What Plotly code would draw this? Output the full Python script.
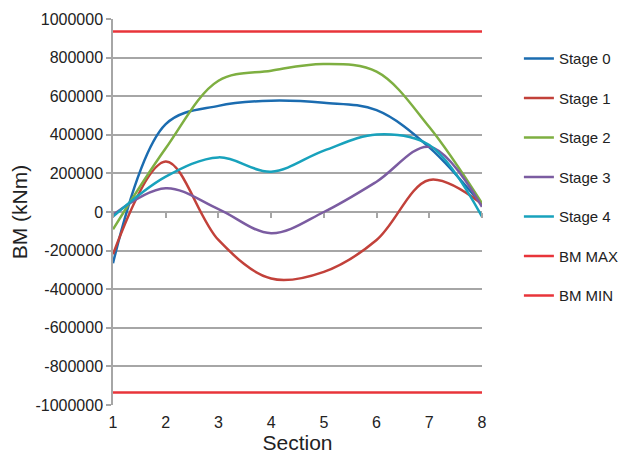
import plotly.graph_objects as go

sections = [1, 2, 3, 4, 5, 6, 7, 8]
stage0 = [-265000, 455000, 550000, 577000, 566000, 528000, 335000, 36000]
stage1 = [-219000, 262000, -145000, -345000, -310000, -145000, 166000, 41000]
stage2 = [-90000, 330000, 680000, 732000, 767000, 727000, 440000, 45000]
stage3 = [-15000, 123000, 15000, -110000, 0, 157000, 338000, 27000]
stage4 = [-24000, 183000, 283000, 209000, 318000, 402000, 347000, -24000]
bm_max = [935000] * 8
bm_min = [-935000] * 8

series_names = ["Stage 0", "Stage 1", "Stage 2", "Stage 3", "Stage 4", "BM MAX", "BM MIN"]
series_vals = [stage0, stage1, stage2, stage3, stage4, bm_max, bm_min]
colors = ["#1B6CB0", "#C2413A", "#7EAF41", "#7B5CA1", "#18A2BC", "#E8343A", "#E8343A"]

y_tickvals = [1000000, 800000, 600000, 400000, 200000, 0, -200000, -400000,
              -600000, -800000, -1000000]
y_ticktext = ["1000000", "800000", "600000", "400000", "200000", "0", "-200000",
              "-400000", "-600000", "-800000", "-1000000"]

FONT = "Liberation Sans, Arial, sans-serif"
GRID = "#A6A6A6"

fig = go.Figure()
for i, (name, vals, col) in enumerate(zip(series_names, series_vals, colors)):
    fig.add_trace(go.Scatter(
        x=sections, y=vals, name=name, mode="lines",
        line=dict(color=col, width=2.5, shape="spline", smoothing=1),
        legendgroup=f"g{i}",
    ))

# invisible trace to carry the zero-level tick axis
fig.add_trace(go.Scatter(x=sections, y=[None] * 8, xaxis="x2", yaxis="y",
                         showlegend=False, hoverinfo="skip", mode="lines"))

fig.update_layout(
    width=624, height=448,
    margin=dict(l=105, r=150, t=11, b=51, pad=0, autoexpand=False),
    paper_bgcolor="white", plot_bgcolor="white",
    font=dict(family=FONT, color="#222222", size=16),
    showlegend=True,
    legend=dict(
        x=1.100, y=0.940, xanchor="left", yanchor="top",
        font=dict(family=FONT, size=15, color="#222222"),
        tracegroupgap=17, bgcolor="rgba(0,0,0,0)", borderwidth=0,
    ),
    xaxis=dict(
        range=[1, 8], tickvals=sections, ticktext=[str(s) for s in sections],
        showgrid=False, zeroline=False, showline=False, ticks="",
        tickfont=dict(size=16), ticklabelstandoff=6, automargin=False,
        title=dict(text="Section", font=dict(size=21), standoff=2),
    ),
    xaxis2=dict(
        range=[1, 8], overlaying="x", anchor="free", position=0.5,
        tickvals=sections, showticklabels=False, ticks="outside",
        ticklen=5, tickwidth=1.5, tickcolor=GRID, showgrid=False,
        zeroline=False, showline=False, automargin=False,
    ),
    yaxis=dict(
        range=[-1000000, 1000000], tickvals=y_tickvals, ticktext=y_ticktext,
        showgrid=True, gridcolor=GRID, gridwidth=1.5, zeroline=False,
        showline=True, linecolor=GRID, linewidth=1.5,
        ticks="outside", ticklen=5, tickwidth=1.5, tickcolor=GRID,
        tickfont=dict(size=16), automargin=False,
        title=dict(text="BM (kNm)", font=dict(size=21), standoff=2),
    ),
)

fig.write_html("out.html")
